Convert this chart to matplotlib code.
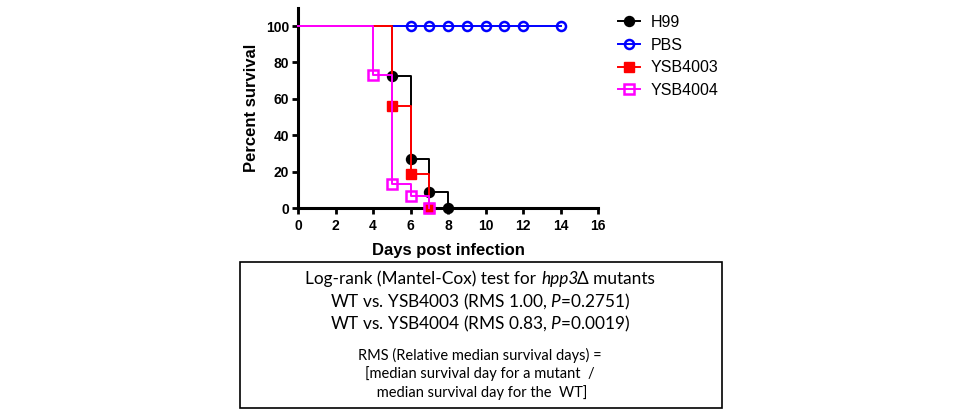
import matplotlib
matplotlib.use("Agg")
import matplotlib.pyplot as plt
from matplotlib.patches import Rectangle
from matplotlib.lines import Line2D
from matplotlib.offsetbox import TextArea, HPacker, AnchoredOffsetbox

# ---- data ----
h99_days = [0, 5, 6, 7, 8]
h99_surv = [100, 72.7, 27.3, 9.1, 0]
pbs_days = [0, 14]
pbs_surv = [100, 100]
pbs_mark_days = [6, 7, 8, 9, 10, 11, 12, 14]
pbs_mark_surv = [100, 100, 100, 100, 100, 100, 100, 100]
y4003_days = [0, 5, 6, 7]
y4003_surv = [100, 56.25, 18.75, 0]
y4004_days = [0, 4, 5, 6, 7]
y4004_surv = [100, 73.3, 13.3, 6.7, 0]

x_ticks = [0, 2, 4, 6, 8, 10, 12, 14, 16]
y_ticks = [0, 20, 40, 60, 80, 100]
labels = ['H99', 'PBS', 'YSB4003', 'YSB4004']

plt.rcParams['mathtext.fontset'] = 'custom'
plt.rcParams['mathtext.rm'] = 'Lato'
plt.rcParams['mathtext.it'] = 'Lato:italic'

fig = plt.figure(figsize=(9.6, 4.15), dpi=100)
ax = fig.add_axes([298/960, 1-208.3/415, 300/960, 200.5/415])

lw = 1.4
# PBS
ax.step(pbs_days, pbs_surv, where='post', color='#0000ff', lw=lw, clip_on=False, zorder=3)
ax.plot(pbs_mark_days, pbs_mark_surv, ls='none', marker='o', ms=6.5, mfc='none',
        mec='#0000ff', mew=1.8, clip_on=False, zorder=3)
# H99
ax.step(h99_days, h99_surv, where='post', color='black', lw=lw, clip_on=False, zorder=4)
ax.plot(h99_days[1:], h99_surv[1:], ls='none', marker='o', ms=7.2, color='black',
        clip_on=False, zorder=4)
# YSB4003
ax.step(y4003_days, y4003_surv, where='post', color='#ff0000', lw=lw, clip_on=False, zorder=5)
ax.plot(y4003_days[1:], y4003_surv[1:], ls='none', marker='s', ms=7, color='#ff0000',
        clip_on=False, zorder=5)
# YSB4004
ax.step(y4004_days, y4004_surv, where='post', color='#ff00ff', lw=lw, clip_on=False, zorder=6)
ax.plot(y4004_days[1:], y4004_surv[1:], ls='none', marker='s', ms=6.8, mfc='none',
        mec='#ff00ff', mew=1.8, clip_on=False, zorder=6)

ax.set_xlim(0, 16)
ax.set_ylim(0, 110)
ax.set_xticks(x_ticks)
ax.set_yticks(y_ticks)
for s in ['top', 'right']:
    ax.spines[s].set_visible(False)
for s in ['left', 'bottom']:
    ax.spines[s].set_linewidth(2.2)
    ax.spines[s].set_zorder(2)
ax.tick_params(width=2, length=4, labelsize=10, pad=2.5)
ax.tick_params(axis='x', pad=4)
for lab in ax.get_xticklabels() + ax.get_yticklabels():
    lab.set_fontweight('bold')
    lab.set_family('Liberation Sans')
ax.set_xlabel('Days post infection', fontsize=12, fontweight='bold', family='Liberation Sans', labelpad=7)
ax.set_ylabel('Percent survival', fontsize=12, fontweight='bold', family='Liberation Sans', labelpad=5)

# legend
handles = [
    Line2D([], [], color='black', lw=lw, marker='o', ms=7.2),
    Line2D([], [], color='#0000ff', lw=lw, marker='o', ms=6.5, mfc='none', mew=1.8),
    Line2D([], [], color='#ff0000', lw=lw, marker='s', ms=7),
    Line2D([], [], color='#ff00ff', lw=lw, marker='s', ms=6.8, mfc='none', mew=1.8),
]
fig.legend(handles, labels, loc='upper left', bbox_to_anchor=(618/960, 1-15/415),
           frameon=False, prop={'family': 'Liberation Sans', 'size': 11.5},
           handlelength=1.35, handletextpad=0.7, labelspacing=0.48, borderpad=0, borderaxespad=0)

# text box
fig.patches.append(Rectangle((239.5/960, 1-408.3/415), (721.5-239.5)/960, (408.3-261.7)/415,
                             transform=fig.transFigure, fill=False, ec='black', lw=1.2))
cx = 480/960
fam = ['Lato', 'DejaVu Sans']
big = 12.4
small = 10.5
t_first = TextArea('Log-rank (Mantel-Cox) test for', textprops=dict(family=fam, size=big))
t_ital = TextArea('hpp3', textprops=dict(family=fam, size=big, style='italic'))
t_last = TextArea('\u0394 mutants', textprops=dict(family=fam, size=big))
inner = HPacker(children=[t_ital, t_last], pad=0, sep=-1.5, align='baseline')
box = HPacker(children=[t_first, inner], pad=0, sep=3.5, align='baseline')
ab = AnchoredOffsetbox(loc='center', child=box, bbox_to_anchor=(cx, 1-278.5/415),
                       bbox_transform=fig.transFigure, frameon=False, pad=0, borderpad=0)
fig.add_artist(ab)

tf = dict(ha='center', va='center', family=fam)
fig.text(cx, 1-301.5/415, 'WT vs. YSB4003 (RMS 1.00, $\\mathit{P}$=0.2751)', fontsize=big, **tf)
fig.text(cx, 1-323.5/415, 'WT vs. YSB4004 (RMS 0.83, $\\mathit{P}$=0.0019)', fontsize=big, **tf)
fig.text(cx, 1-355/415, 'RMS (Relative median survival days) =', fontsize=small, **tf)
fig.text(cx, 1-373.5/415, '[median survival day for a mutant  /', fontsize=small, **tf)
fig.text(cx, 1-392.5/415, ' median survival day for the  WT]', fontsize=small, **tf)

fig.savefig('out.png', dpi=100)
